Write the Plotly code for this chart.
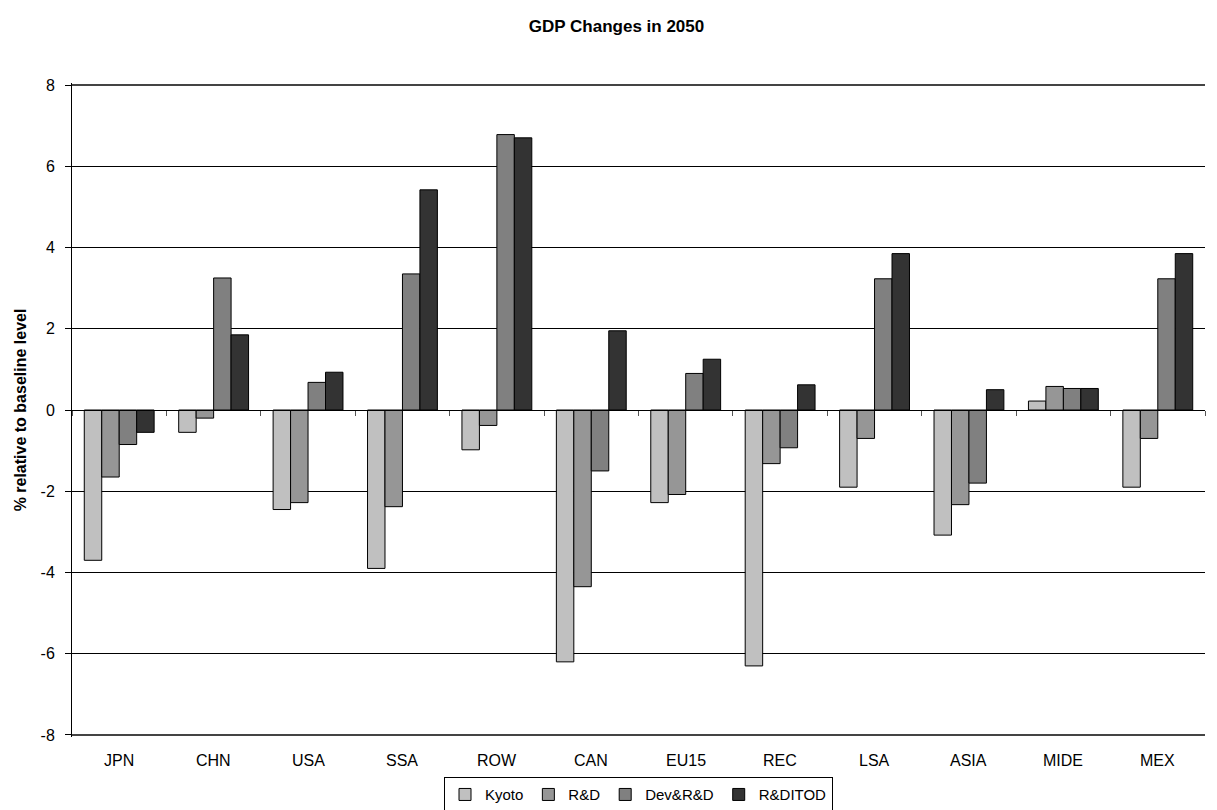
import plotly.graph_objects as go

categories = ["JPN", "CHN", "USA", "SSA", "ROW", "CAN", "EU15", "REC", "LSA", "ASIA", "MIDE", "MEX"]
kyoto =   [-3.70, -0.55, -2.45, -3.90, -0.98, -6.20, -2.28, -6.30, -1.90, -3.08, 0.22, -1.90]
rd =      [-1.65, -0.20, -2.28, -2.38, -0.38, -4.35, -2.08, -1.32, -0.70, -2.33, 0.58, -0.70]
dev_rd =  [-0.85, 3.25, 0.68, 3.35, 6.78, -1.50, 0.90, -0.93, 3.23, -1.80, 0.53, 3.23]
rditod =  [-0.55, 1.85, 0.93, 5.42, 6.70, 1.95, 1.25, 0.62, 3.85, 0.50, 0.53, 3.85]
y_ticks = [-8, -6, -4, -2, 0, 2, 4, 6, 8]
y_labels = ["-8", "-6", "-4", "-2", "0", "2", "4", "6", "8"]
y_range = [-8.05, 8.05]

series = [("Kyoto", kyoto, "#C0C0C0"), ("R&D", rd, "#969696"),
          ("Dev&R&D", dev_rd, "#808080"), ("R&DITOD", rditod, "#333333")]

fig = go.Figure()
for name, vals, col in series:
    fig.add_trace(go.Bar(x=categories, y=vals, name=name,
                         marker=dict(color=col, line=dict(color="black", width=1))))

font = "Liberation Sans, Arial, sans-serif"
for c in categories:
    fig.add_annotation(x=c, y=-0.0355, xref="x", yref="paper", yanchor="middle", text=c,
                       showarrow=False, font=dict(family=font, size=16, color="black"))

# outer gridlines at the top and bottom tick values
span = y_range[1] - y_range[0]
for yv in (y_ticks[0], y_ticks[-1]):
    frac = (yv - y_range[0]) / span
    fig.add_shape(type="line", xref="paper", yref="paper", x0=0, x1=1, y0=frac, y1=frac,
                  line=dict(color="#444444", width=2), layer="above")

fig.update_layout(
    width=1217, height=810,
    paper_bgcolor="white", plot_bgcolor="white",
    margin=dict(l=64, r=20, t=75, b=81, autoexpand=False),
    barmode="group", bargap=0.26, bargroupgap=0,
    title=dict(text="<b>GDP Changes in 2050</b>", x=0.5, xanchor="center",
               y=1 - 18 / 810, yanchor="middle",
               font=dict(family=font, size=17, color="black")),
    font=dict(family=font, size=16, color="black"),
    xaxis=dict(anchor="free", position=0.5, showline=True, linecolor="black", linewidth=1,
               ticks="outside", tickson="boundaries", ticklen=5, tickcolor="#555",
               showticklabels=False, showgrid=False, zeroline=False),
    yaxis=dict(range=y_range, tickvals=y_ticks, ticktext=y_labels,
               showline=True, linecolor="black", linewidth=1,
               ticks="outside", ticklen=6, tickcolor="black", ticklabelstandoff=7,
               showgrid=True, gridcolor="black", gridwidth=1, zeroline=False,
               title=dict(text="<b>% relative to baseline level</b>", font=dict(size=16), standoff=9),
               tickfont=dict(size=16)),
    legend=dict(orientation="h", x=0.5, xanchor="center", y=-0.115, yanchor="bottom",
                bordercolor="black", borderwidth=1, font=dict(size=15),
                itemwidth=30, tracegroupgap=0),
)

fig.write_html("out.html")
